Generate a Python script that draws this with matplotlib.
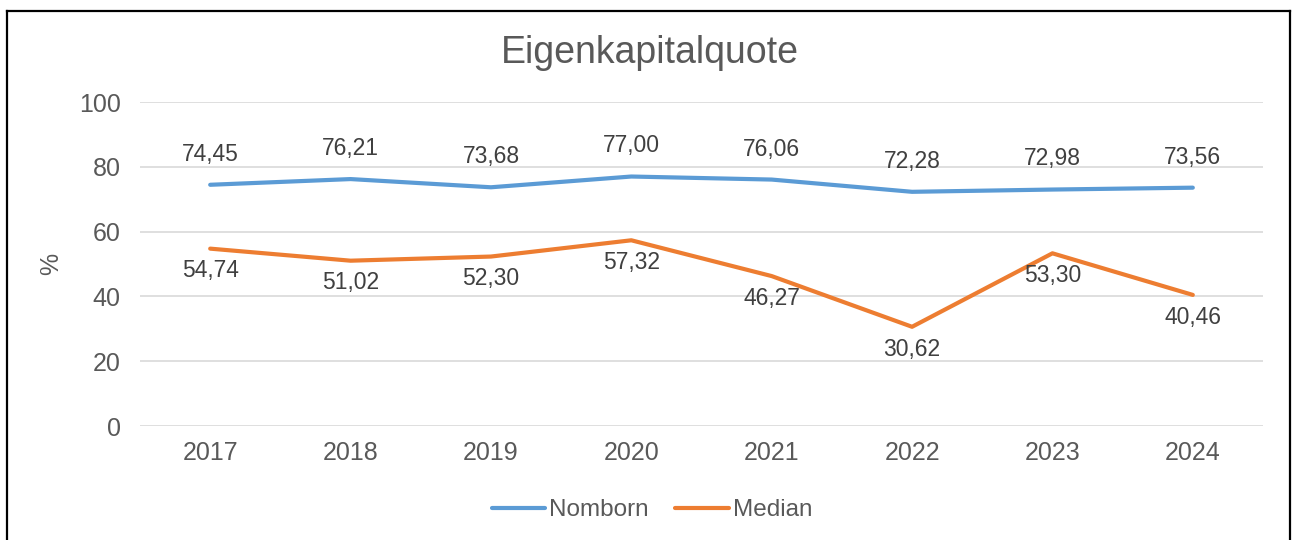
import matplotlib
matplotlib.use("Agg")
import matplotlib.pyplot as plt
from matplotlib.lines import Line2D

plt.rcParams['font.family'] = ['Liberation Sans', 'DejaVu Sans']

# data
years = ["2017", "2018", "2019", "2020", "2021", "2022", "2023", "2024"]
nomborn = [74.45, 76.21, 73.68, 77.00, 76.06, 72.28, 72.98, 73.56]
median = [54.74, 51.02, 52.30, 57.32, 46.27, 30.62, 53.30, 40.46]

blue = "#5B9BD5"
orange = "#ED7D31"
grey = "#595959"

W, H = 1293, 540
fig = plt.figure(figsize=(W / 100, H / 100), dpi=100)
ax = fig.add_axes([140 / W, 1 - 426 / H, 1123 / W, 324 / H])

x = list(range(len(years)))
ax.plot(x, nomborn, color=blue, lw=3, label="Nomborn", solid_capstyle="round")
ax.plot(x, median, color=orange, lw=3, label="Median", solid_capstyle="round")

def fmt(v):
    return f"{v:.2f}".replace(".", ",")

for xi, v in zip(x, nomborn):
    ax.annotate(fmt(v), (xi, v), xytext=(0, 22), textcoords="offset points",
                ha="center", va="center", fontsize=16.5, color="#404040")
for xi, v in zip(x, median):
    ax.annotate(fmt(v), (xi, v), xytext=(0, -16), textcoords="offset points",
                ha="center", va="center", fontsize=16.5, color="#404040")

ax.set_xlim(-0.5, len(years) - 0.5)
ax.set_ylim(0, 100)
ax.set_yticks(range(0, 101, 20))
ax.set_xticks(x)
ax.set_xticklabels(years)
ax.tick_params(axis="both", length=0, labelsize=18, labelcolor=grey)
ax.tick_params(axis="x", pad=11)
ax.tick_params(axis="y", pad=14)
ax.grid(axis="y", color="#D9D9D9", lw=1.2)
ax.set_axisbelow(True)
for s in ax.spines.values():
    s.set_visible(False)

ax.set_ylabel("%", fontsize=18, color=grey, labelpad=11)

fig.text(650 / W, 1 - 53 / H, "Eigenkapitalquote", ha="center", va="center",
         fontsize=27, color=grey)

leg = fig.legend(loc="center", bbox_to_anchor=(652 / W, 1 - 510 / H), ncol=2,
                 frameon=False, fontsize=17.5, handlelength=2.2, columnspacing=1.1,
                 handletextpad=0.15)
for t in leg.get_texts():
    t.set_color(grey)

# outer frame (no bottom edge)
kw = dict(color="black", lw=1.6, transform=fig.transFigure)
fig.add_artist(Line2D([7 / W, 7 / W], [0, 1 - 11 / H], **kw))
fig.add_artist(Line2D([7 / W, 1290 / W], [1 - 11 / H, 1 - 11 / H], **kw))
fig.add_artist(Line2D([1290 / W, 1290 / W], [0, 1 - 11 / H], **kw))

fig.savefig("out.png", dpi=100)
